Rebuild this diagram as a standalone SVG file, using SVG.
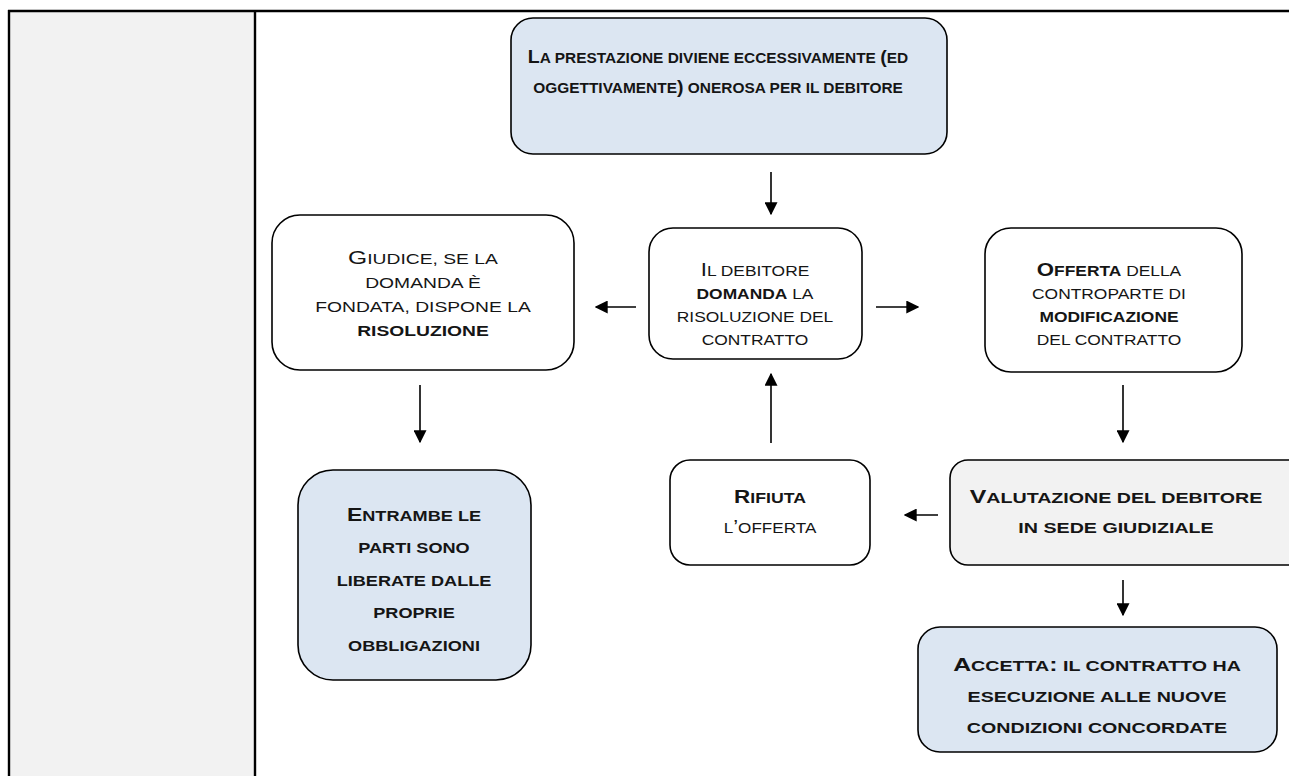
<svg xmlns="http://www.w3.org/2000/svg" width="1289" height="776" viewBox="0 0 1289 776">
<defs>
<marker id="ah" viewBox="0 0 10 10" refX="9" refY="5" markerWidth="13" markerHeight="13" markerUnits="userSpaceOnUse" orient="auto">
<path d="M0,0 L10,5 L0,10 Z" fill="#000"/>
</marker>
</defs>
<style>
.box{stroke:#000;stroke-width:1.6}
.blue{fill:#dce6f2}
.grey{fill:#f2f2f2}
.white{fill:#fff}
text{font-family:"Liberation Sans",Arial,sans-serif;fill:#151515;text-anchor:middle}
.b{font-weight:bold;font-size:15px}
.r{font-size:14.5px}
.bi{font-size:19px}
.ri{font-size:18.5px}
.bw{font-weight:bold}
.conn line{stroke:#000;stroke-width:1.6;marker-end:url(#ah)}
.frame{stroke:#000;stroke-width:2.4;fill:none}
</style>
<rect x="0" y="0" width="1289" height="776" fill="#fff"/>
<g id="frame">
<rect x="9" y="11" width="246" height="770" fill="#f2f2f2"/>
<line class="frame" x1="8" y1="11" x2="1289" y2="11"/>
<line class="frame" x1="9" y1="10" x2="9" y2="776"/>
<line class="frame" x1="255" y1="10" x2="255" y2="776"/>
</g>
<g id="n-top">
<rect class="box blue" x="511" y="18" width="436" height="136" rx="22"/>
<g transform="translate(718,0) scale(1.03,1)">
<text class="b" x="0" y="63"><tspan class="bi">L</tspan>A PRESTAZIONE DIVIENE ECCESSIVAMENTE <tspan class="bi">(</tspan>ED</text>
<text class="b" x="0" y="93">OGGETTIVAMENTE<tspan class="bi">)</tspan> ONEROSA PER IL DEBITORE</text>
</g>
</g>
<g id="n-giudice">
<rect class="box white" x="272" y="215" width="302" height="155" rx="28"/>
<g transform="translate(423,0) scale(1.33,1)">
<text class="r" x="0" y="264"><tspan class="ri">G</tspan>IUDICE, SE LA</text>
<text class="r" x="0" y="288">DOMANDA È</text>
<text class="r" x="0" y="312">FONDATA, DISPONE LA</text>
<text class="r bw" x="0" y="336">RISOLUZIONE</text>
</g>
</g>
<g id="n-debitore">
<rect class="box white" x="649" y="228" width="213" height="131" rx="24"/>
<g transform="translate(755,0) scale(1.2,1)">
<text class="r" x="0" y="276"><tspan class="ri">I</tspan>L DEBITORE</text>
<text class="r" x="0" y="299"><tspan class="bw">DOMANDA</tspan> LA</text>
<text class="r" x="0" y="322">RISOLUZIONE DEL</text>
<text class="r" x="0" y="345">CONTRATTO</text>
</g>
</g>
<g id="n-offerta">
<rect class="box white" x="985" y="228" width="257" height="144" rx="26"/>
<g transform="translate(1109,0) scale(1.2,1)">
<text class="r" x="0" y="276"><tspan class="bw"><tspan class="ri">O</tspan>FFERTA</tspan> DELLA</text>
<text class="r" x="0" y="299">CONTROPARTE DI</text>
<text class="r bw" x="0" y="322">MODIFICAZIONE</text>
<text class="r" x="0" y="345">DEL CONTRATTO</text>
</g>
</g>
<g id="n-entrambe">
<rect class="box blue" x="298" y="470" width="233" height="210" rx="35"/>
<g transform="translate(414,0) scale(1.21,1)">
<text class="b" x="0" y="521"><tspan class="bi">E</tspan>NTRAMBE LE</text>
<text class="b" x="0" y="553">PARTI SONO</text>
<text class="b" x="0" y="586">LIBERATE DALLE</text>
<text class="b" x="0" y="618">PROPRIE</text>
<text class="b" x="0" y="651">OBBLIGAZIONI</text>
</g>
</g>
<g id="n-rifiuta">
<rect class="box white" x="670" y="460" width="200" height="105" rx="20"/>
<g transform="translate(770,0) scale(1.18,1)">
<text class="b" x="0" y="503"><tspan class="bi">R</tspan>IFIUTA</text>
<text class="r" x="0" y="533">L<tspan class="ri">’</tspan>OFFERTA</text>
</g>
</g>
<g id="n-valutazione">
<rect class="box grey" x="950" y="460" width="360" height="105" rx="18"/>
<g transform="translate(1116,0) scale(1.31,1)">
<text class="b" x="0" y="503"><tspan class="bi">V</tspan>ALUTAZIONE DEL DEBITORE</text>
<text class="b" x="0" y="533">IN SEDE GIUDIZIALE</text>
</g>
</g>
<g id="n-accetta">
<rect class="box blue" x="918" y="627" width="359" height="125" rx="22"/>
<g transform="translate(1097,0) scale(1.31,1)">
<text class="b" x="0" y="671"><tspan class="bi">A</tspan>CCETTA<tspan class="bi">:</tspan> IL CONTRATTO HA</text>
<text class="b" x="0" y="702">ESECUZIONE ALLE NUOVE</text>
<text class="b" x="0" y="733">CONDIZIONI CONCORDATE</text>
</g>
</g>
<g id="connectors" class="conn">
<line x1="771" y1="172" x2="771" y2="214"/>
<line x1="636" y1="307" x2="596" y2="307"/>
<line x1="876" y1="307" x2="918" y2="307"/>
<line x1="420" y1="385" x2="420" y2="442"/>
<line x1="1123" y1="385" x2="1123" y2="442"/>
<line x1="771" y1="443" x2="771" y2="374"/>
<line x1="938" y1="515" x2="905" y2="515"/>
<line x1="1123" y1="580" x2="1123" y2="615"/>
</g>
</svg>
